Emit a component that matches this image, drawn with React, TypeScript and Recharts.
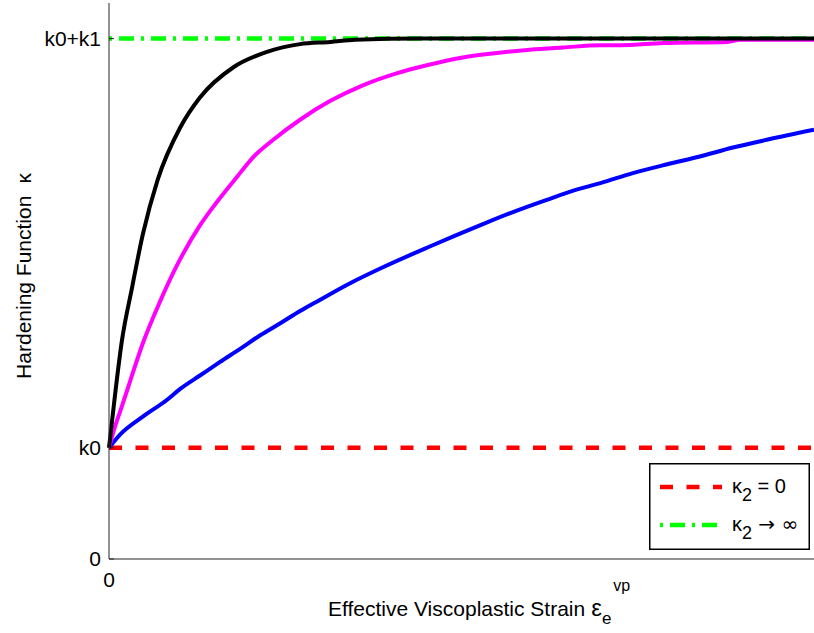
import { LineChart, Line, XAxis, YAxis, Legend, Label } from "recharts";

// hardening levels in plot units
const K0 = 1;
const K1 = 3.68;

const yTicks = [0, K0, K0 + K1];
const yTickLabels = ["0", "k0", "k0+k1"];
const xTicks = [0];
const xTickLabels = ["0"];

// effective viscoplastic strain (0..100) and hardening value for each curve
const strainBlack = [0, 0.9, 1.8, 3.3, 4.8, 6.9, 10.1, 12.9, 17.6, 22.4, 27.1, 31.4, 34.9, 44.1, 60, 80, 100];
const kappaBlack = [1.0, 1.5, 1.95, 2.45, 2.92, 3.41, 3.88, 4.15, 4.42, 4.56, 4.63, 4.65, 4.67, 4.68, 4.68, 4.68, 4.68];

const strainMagenta = [0, 0.9, 1.6, 3.0, 4.8, 7.2, 9.8, 12.9, 15.3, 18.2, 20.4, 23.3, 27.1, 31.4, 36.0, 40.9, 45.1, 50.2, 55.0, 59.7, 64.4, 69.7, 72.5, 78.6, 87.7, 89.5, 100];
const kappaMagenta = [1.0, 1.2, 1.33, 1.6, 1.94, 2.31, 2.66, 3.0, 3.21, 3.44, 3.61, 3.77, 3.95, 4.12, 4.26, 4.37, 4.44, 4.51, 4.55, 4.58, 4.6, 4.62, 4.62, 4.64, 4.65, 4.67, 4.67];

const strainBlue = [0, 1.6, 4.8, 8.2, 10.1, 12.9, 15.7, 18.6, 21.4, 24.3, 27.1, 29.9, 34.2, 38.4, 45.5, 52.6, 57.3, 62.1, 66.8, 69.7, 74.3, 79.2, 83.8, 88.5, 93.3, 100];
const kappaBlue = [1.0, 1.12, 1.28, 1.43, 1.53, 1.65, 1.77, 1.89, 2.01, 2.12, 2.23, 2.33, 2.48, 2.61, 2.81, 3.0, 3.12, 3.23, 3.33, 3.38, 3.47, 3.55, 3.62, 3.7, 3.77, 3.86];

const strainLimits = [0, 100];

const legendItems = [
  { sub: "2", rest: " = 0", restFont: "inherit", color: "#ff0000", dash: "13 13.5" },
  { sub: "2", rest: " → ∞", restFont: "'DejaVu Sans'", color: "#00ff00", dash: "3 7 15 7" },
];

const zip = (xs: number[], ys: number[]) => xs.map((x, i) => ({ strain: x, kappa: ys[i] }));

const blackData = zip(strainBlack, kappaBlack);
const magentaData = zip(strainMagenta, kappaMagenta);
const blueData = zip(strainBlue, kappaBlue);
const lowerData = strainLimits.map((x) => ({ strain: x, kappa: K0 }));
const upperData = strainLimits.map((x) => ({ strain: x, kappa: K0 + K1 }));

const AXIS = "#262626";
const FS = 21;

function YTick(props: any) {
  const { x, y, payload } = props;
  const i = yTicks.findIndex((t) => Math.abs(t - payload.value) < 1e-6);
  return (
    <g>
      <line x1={x + 8} x2={x + 13} y1={y} y2={y} stroke={AXIS} strokeWidth={1} />
      <text x={x} y={y} dy="0.355em" textAnchor="end" fontSize={FS} fill="#000">
        {yTickLabels[i]}
      </text>
    </g>
  );
}

function YLabel(props: any) {
  const { x, y, height } = props.viewBox;
  const cx = x + 31;
  const cy = y + height / 2 - 5;
  return (
    <text x={cx} y={cy} transform={`rotate(-90 ${cx} ${cy})`} textAnchor="middle" fontSize={FS} fill="#000">
      Hardening Function<tspan dx={12}>κ</tspan>
    </text>
  );
}

function XLabel(props: any) {
  const { x, y } = props.viewBox;
  return (
    <text x={x + 219} y={y + 57} textAnchor="start" fontSize={FS} fill="#000">
      Effective Viscoplastic Strain<tspan dx={6} fontSize={24}>ε</tspan>
      <tspan dy={8} fontSize={17}>e</tspan>
      <tspan dx={2} dy={-33} fontSize={16}>vp</tspan>
    </text>
  );
}

function LegendBox() {
  return (
    <svg width={161} height={87} style={{ display: "block" }}>
      <rect x={0.75} y={0.75} width={159.5} height={85.5} fill="#fff" stroke="#000" strokeWidth={1.5} />
      {legendItems.map((item, i) => {
        const cy = 24 + i * 38;
        return (
          <g key={i}>
            <line x1={11} x2={73} y1={cy} y2={cy} stroke={item.color} strokeWidth={4.5} strokeDasharray={item.dash} />
            <text x={83} y={cy + 6} fontSize={20} fill="#000">
              κ<tspan dy={8} fontSize={18}>{item.sub}</tspan>
              <tspan dy={-8} fontFamily={item.restFont}>{item.rest}</tspan>
            </text>
          </g>
        );
      })}
    </svg>
  );
}

export default function App() {
  return (
    <div style={{ position: "absolute", left: 0, top: 0, fontFamily: "'Liberation Sans', Arial, sans-serif", background: "#fff" }}>
      <LineChart width={814} height={633} margin={{ top: 3, right: 0, bottom: 0, left: 0 }}>
        <XAxis
          dataKey="strain"
          type="number"
          domain={[0, 100]}
          ticks={xTicks}
          tickFormatter={(v: number) => xTickLabels[xTicks.indexOf(v)] ?? ""}
          tickLine={false}
          tickSize={0}
          tickMargin={13}
          height={74}
          axisLine={{ stroke: AXIS, strokeWidth: 1 }}
          tick={{ fontSize: FS, fill: "#000" }}
        >
          <Label content={XLabel} />
        </XAxis>
        <YAxis
          type="number"
          domain={[0, 5]}
          ticks={yTicks}
          interval={0}
          width={109}
          tickLine={false}
          tickSize={0}
          tickMargin={8}
          axisLine={{ stroke: AXIS, strokeWidth: 1 }}
          tick={YTick}
        >
          <Label content={YLabel} />
        </YAxis>
        <Legend
          layout="horizontal"
          align="center"
          verticalAlign="middle"
          content={LegendBox}
          wrapperStyle={{ left: 649, top: 463, width: 161, height: 87 }}
        />
        <Line data={lowerData} dataKey="kappa" type="linear" stroke="#ff0000" strokeWidth={4.5} strokeDasharray="13 13.5" dot={false} activeDot={false} isAnimationActive={false} />
        <Line data={upperData} dataKey="kappa" type="linear" stroke="#00ff00" strokeWidth={4.5} strokeDasharray="3 7 15 7" dot={false} activeDot={false} isAnimationActive={false} />
        <Line data={blueData} dataKey="kappa" type="monotone" stroke="#0000ff" strokeWidth={4} dot={false} activeDot={false} isAnimationActive={false} />
        <Line data={magentaData} dataKey="kappa" type="monotone" stroke="#ff00ff" strokeWidth={4} dot={false} activeDot={false} isAnimationActive={false} />
        <Line data={blackData} dataKey="kappa" type="monotone" stroke="#000000" strokeWidth={4} dot={false} activeDot={false} isAnimationActive={false} />
      </LineChart>
    </div>
  );
}
